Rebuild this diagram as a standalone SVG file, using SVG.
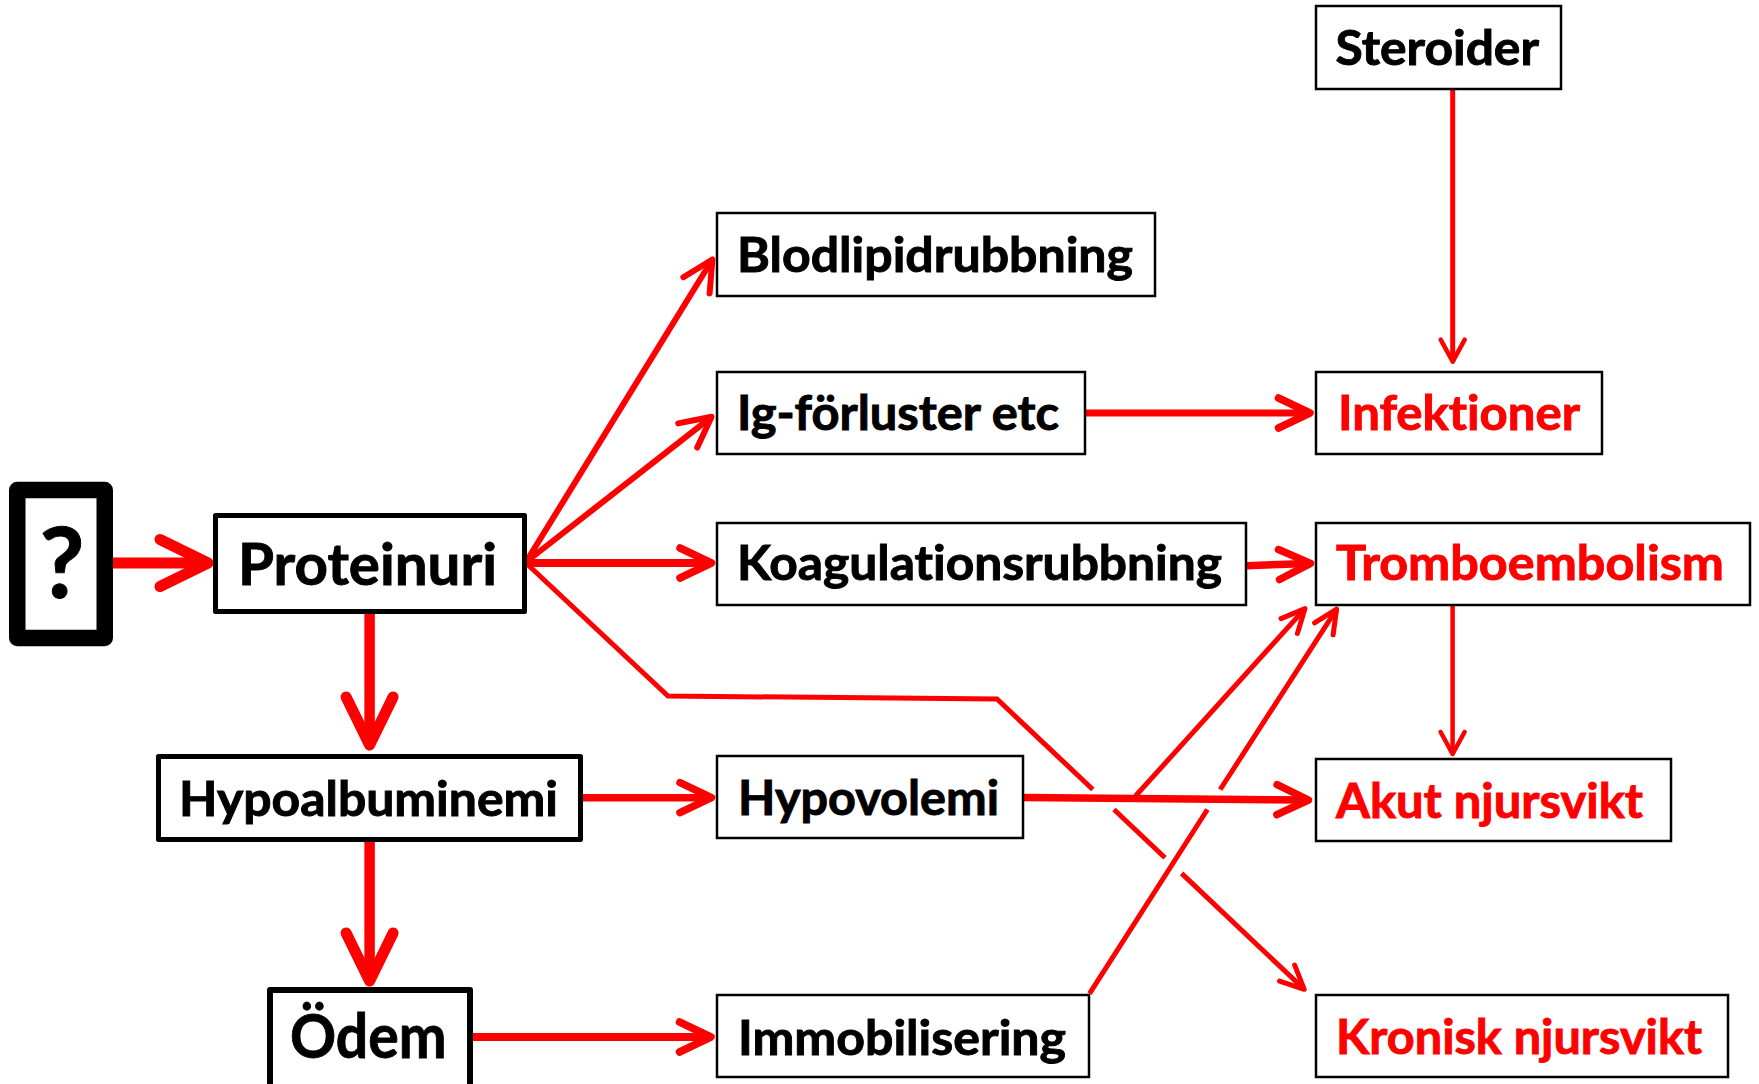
<svg xmlns="http://www.w3.org/2000/svg" width="1759" height="1084" viewBox="0 0 1759 1084">
<style>
.bx{fill:#fff;stroke:#000;stroke-width:2.5}
.bb{stroke-width:5;stroke-linejoin:round}
.bo{stroke-width:6;stroke-linejoin:round}
.t{font-family:Lato,"Open Sans","Liberation Sans",sans-serif;font-weight:700;font-size:47px;fill:#000;stroke:#000;stroke-width:0.9;font-variant-ligatures:none;font-feature-settings:"liga" 0}
.r{fill:#f00;stroke:#f00}
.c{fill:none;stroke:#f00;stroke-linecap:butt;stroke-linejoin:miter}
.mk{fill:none;stroke:#f00;stroke-linecap:round;stroke-linejoin:round}
</style>
<defs>
<marker id="aL" markerUnits="userSpaceOnUse" orient="auto" overflow="visible" markerWidth="1" markerHeight="1" refX="0" refY="0"><path class="mk" stroke-width="11" d="M-48,-23.5 L0,0 L-48,23.5"/></marker>
<marker id="aM" markerUnits="userSpaceOnUse" orient="auto" overflow="visible" markerWidth="1" markerHeight="1" refX="0" refY="0"><path class="mk" stroke-width="7.5" d="M-31.5,-15 L0,0 L-31.5,15"/></marker>
<marker id="aD" markerUnits="userSpaceOnUse" orient="auto" overflow="visible" markerWidth="1" markerHeight="1" refX="0" refY="0"><path class="mk" stroke-width="6" d="M-30.3,-15.4 L0,0 L-30.3,15.4"/></marker>
<marker id="aS" markerUnits="userSpaceOnUse" orient="auto" overflow="visible" markerWidth="1" markerHeight="1" refX="0" refY="0"><path class="mk" stroke-width="5" d="M-23.5,-11 L0,0 L-23.5,11"/></marker>
<marker id="aXS" markerUnits="userSpaceOnUse" orient="auto" overflow="visible" markerWidth="1" markerHeight="1" refX="0" refY="0"><path class="mk" stroke-width="4.5" d="M-22,-12 L0,0 L-22,12"/></marker>
</defs>

<g id="connectors">
<path class="c" stroke-width="11" marker-end="url(#aL)" d="M113,563 L208,563"/>
<path class="c" stroke-width="10.5" marker-end="url(#aL)" d="M369.6,614 L369.6,745"/>
<path class="c" stroke-width="10.5" marker-end="url(#aL)" d="M369.6,842 L369.6,981"/>
<path class="c" stroke-width="7.5" marker-end="url(#aM)" d="M583,797.7 L711.5,797.7"/>
<path class="c" stroke-width="8" marker-end="url(#aM)" d="M473,1037 L711,1037"/>
<path class="c" stroke-width="6" marker-end="url(#aD)" d="M526,562 L712.4,259.5"/>
<path class="c" stroke-width="6" marker-end="url(#aD)" d="M526,562 L711.6,416.8"/>
<path class="c" stroke-width="8" marker-end="url(#aM)" d="M526,563 L711.5,563"/>
<path class="c" stroke-width="5" marker-end="url(#aS)" d="M526,563 L668,696 L997,699 L1092.8,789.5 M1114,809.5 L1165,857.8 M1181.6,873.4 L1304.2,989.3"/>
<path class="c" stroke-width="7" marker-end="url(#aM)" d="M1086,413 L1310,413"/>
<path class="c" stroke-width="5" marker-end="url(#aXS)" d="M1452.7,90 L1452.7,361.7"/>
<path class="c" stroke-width="7.5" marker-end="url(#aM)" d="M1247,565.7 L1310.5,563.4"/>
<path class="c" stroke-width="4.5" marker-end="url(#aXS)" d="M1452.6,606 L1452.6,754"/>
<path class="c" stroke-width="5" marker-end="url(#aS)" d="M1089.5,993.7 L1207.4,809.5 M1220.2,789.5 L1336.6,609.1"/>
<path class="c" stroke-width="7.5" marker-end="url(#aM)" d="M1024,797.5 L1308.5,800"/>
<path class="c" stroke-width="5" marker-end="url(#aS)" d="M1135.5,796 L1305,608.6"/>
</g>

<g id="n-question">
<rect x="17.25" y="490" width="87.5" height="148" fill="#fff" stroke="#000" stroke-width="16.5" stroke-linejoin="round"/>
<text class="t" x="62" y="598" text-anchor="middle" style="font-size:98px">?</text>
</g>
<g id="n-proteinuri">
<rect class="bx bb" x="215.5" y="515.5" width="309" height="96"/>
<text class="t" x="238" y="585" style="font-size:58px" textLength="259" lengthAdjust="spacingAndGlyphs">Proteinuri</text>
</g>
<g id="n-hypoalbuminemi">
<rect class="bx bb" x="158.5" y="756.5" width="422" height="83"/>
<text class="t" x="179" y="816" textLength="379" lengthAdjust="spacingAndGlyphs">Hypoalbuminemi</text>
</g>
<g id="n-odem">
<rect class="bx bo" x="270" y="990" width="200" height="110"/>
<text class="t" x="290" y="1058" style="font-size:62px" textLength="156.5" lengthAdjust="spacingAndGlyphs">Ödem</text>
</g>
<g id="n-blodlipid">
<rect class="bx" x="717" y="213" width="438" height="83"/>
<text class="t" x="737" y="272" textLength="396" lengthAdjust="spacingAndGlyphs">Blodlipidrubbning</text>
</g>
<g id="n-ig">
<rect class="bx" x="717" y="372" width="368" height="82"/>
<text class="t" x="737" y="430" textLength="322" lengthAdjust="spacingAndGlyphs">Ig-förluster etc</text>
</g>
<g id="n-koag">
<rect class="bx" x="717" y="523" width="529" height="82"/>
<text class="t" x="737" y="580" textLength="485" lengthAdjust="spacingAndGlyphs">Koagulationsrubbning</text>
</g>
<g id="n-hypovolemi">
<rect class="bx" x="717" y="756" width="306" height="82"/>
<text class="t" x="738" y="815" textLength="261" lengthAdjust="spacingAndGlyphs">Hypovolemi</text>
</g>
<g id="n-immob">
<rect class="bx" x="717" y="995" width="372" height="82"/>
<text class="t" x="738" y="1055" textLength="328" lengthAdjust="spacingAndGlyphs">Immobilisering</text>
</g>
<g id="n-steroider">
<rect class="bx" x="1316" y="6" width="245" height="83"/>
<text class="t" x="1335.5" y="65" textLength="203.5" lengthAdjust="spacingAndGlyphs">Steroider</text>
</g>
<g id="n-infektioner">
<rect class="bx" x="1316" y="372" width="286" height="82"/>
<text class="t r" x="1338" y="430" textLength="242" lengthAdjust="spacingAndGlyphs">Infektioner</text>
</g>
<g id="n-trombo">
<rect class="bx" x="1316" y="523" width="434" height="82"/>
<text class="t r" x="1336" y="580" textLength="388" lengthAdjust="spacingAndGlyphs">Tromboembolism</text>
</g>
<g id="n-akut">
<rect class="bx" x="1316" y="759" width="355" height="82"/>
<text class="t r" x="1336" y="818" textLength="307" lengthAdjust="spacingAndGlyphs">Akut njursvikt</text>
</g>
<g id="n-kronisk">
<rect class="bx" x="1316" y="995" width="412" height="82"/>
<text class="t r" x="1336" y="1054" textLength="366" lengthAdjust="spacingAndGlyphs">Kronisk njursvikt</text>
</g>
</svg>
